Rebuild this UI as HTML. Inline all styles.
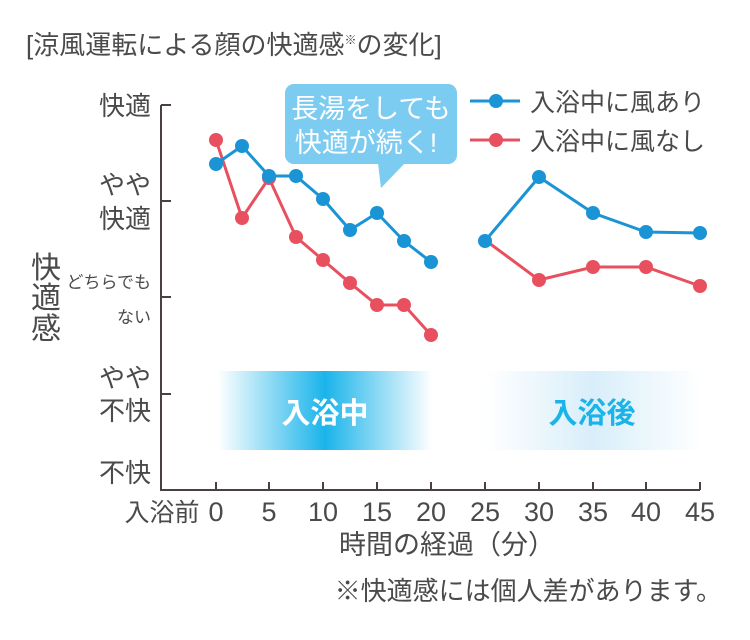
<!DOCTYPE html>
<html><head><meta charset="utf-8"><style>
body{margin:0;background:#fff}
svg{display:block}
text{font-family:"Liberation Sans","Noto Sans CJK JP",sans-serif;fill:#4a4a4a}
</style></head><body>
<svg width="750" height="640" viewBox="0 0 750 640" xmlns="http://www.w3.org/2000/svg">
<defs>
<linearGradient id="g1" x1="0" x2="1"><stop offset="0" stop-color="#fff"/><stop offset="0.5" stop-color="#1ab4ea"/><stop offset="1" stop-color="#fff"/></linearGradient>
<linearGradient id="g2" x1="0" x2="1"><stop offset="0" stop-color="#fff"/><stop offset="0.5" stop-color="#d8eefa"/><stop offset="1" stop-color="#fff"/></linearGradient>
</defs>
<text x="26" y="54" font-size="26">[涼風運転による顔の快適感<tspan font-size="12" dy="-10">※</tspan><tspan dy="10">の変化]</tspan></text>
<rect x="218" y="371" width="214" height="79" fill="url(#g1)"/>
<rect x="485" y="371" width="216" height="79" fill="url(#g2)"/>
<text x="325" y="423" font-size="29" font-weight="bold" text-anchor="middle" style="fill:#fff">入浴中</text>
<text x="592" y="423" font-size="29" font-weight="bold" text-anchor="middle" style="fill:#1ab4ea">入浴後</text>
<g stroke="#4a4040" stroke-width="2" fill="none">
<path d="M161 105V490H700"/>
<path d="M161 105h10M161 201h10M161 297h10M161 394h10"/>
<path d="M216 490v-8M269 490v-8M323 490v-8M377 490v-8M431 490v-8M485 490v-8M539 490v-8M593 490v-8M646 490v-8M700 490v-8"/>
</g>
<g font-size="26" text-anchor="end">
<text x="151" y="115">快適</text>
<text x="151" y="194">やや</text>
<text x="151" y="228">快適</text>
<text x="151" y="387">やや</text>
<text x="151" y="420">不快</text>
<text x="151" y="482">不快</text>
</g>
<g font-size="17" text-anchor="end">
<text x="151" y="288">どちらでも</text>
<text x="151" y="323">ない</text>
</g>
<g font-size="30" text-anchor="middle">
<text x="46" y="278">快</text><text x="46" y="308">適</text><text x="46" y="339">感</text>
</g>
<g font-size="27" text-anchor="middle">
<text x="162" y="521" font-size="25">入浴前</text>
<text x="216" y="521">0</text><text x="269" y="521">5</text><text x="323" y="521">10</text><text x="377" y="521">15</text><text x="431" y="521">20</text><text x="485" y="521">25</text><text x="539" y="521">30</text><text x="593" y="521">35</text><text x="646" y="521">40</text><text x="700" y="521">45</text>
<text x="447" y="554">時間の経過（分）</text>
</g>
<text x="722" y="600" font-size="26" text-anchor="end">※快適感には個人差があります。</text>
<rect x="285" y="84" width="172" height="80" rx="9" fill="#7ccbf0"/>
<path d="M378 163L381 188L405 163Z" fill="#7ccbf0"/>
<text x="371" y="118" font-size="27" text-anchor="middle" style="fill:#fff">長湯をしても</text>
<text x="366" y="152" font-size="27" text-anchor="middle" style="fill:#fff">快適が続く!</text>
<path d="M470 101h50" stroke="#1a94d4" stroke-width="3"/><circle cx="496" cy="101" r="7" fill="#1a94d4"/>
<text x="530" y="111" font-size="25">入浴中に風あり</text>
<path d="M470 140h50" stroke="#e8505f" stroke-width="3"/><circle cx="496" cy="140" r="7" fill="#e8505f"/>
<text x="530" y="150" font-size="25">入浴中に風なし</text>
<g stroke="#e8505f" stroke-width="3" fill="none">
<polyline points="216,140 242,218 269,178 296,237 323,260 350,283 377,305 404,305 431,335"/>
<polyline points="485,240 539,280 593,267 646,267 700,286"/>
</g>
<g fill="#e8505f">
<circle cx="216" cy="140" r="7"/><circle cx="242" cy="218" r="7"/><circle cx="269" cy="178" r="7"/><circle cx="296" cy="237" r="7"/><circle cx="323" cy="260" r="7"/><circle cx="350" cy="283" r="7"/><circle cx="377" cy="305" r="7"/><circle cx="404" cy="305" r="7"/><circle cx="431" cy="335" r="7"/>
<circle cx="539" cy="280" r="7"/><circle cx="593" cy="267" r="7"/><circle cx="646" cy="267" r="7"/><circle cx="700" cy="286" r="7"/>
</g>
<g stroke="#1a94d4" stroke-width="3" fill="none">
<polyline points="216,164 242,146 269,176 296,176 323,199 350,230 377,213 404,241 431,262"/>
<polyline points="485,241 539,177 593,213 646,232 700,233"/>
</g>
<g fill="#1a94d4">
<circle cx="216" cy="164" r="7"/><circle cx="242" cy="146" r="7"/><circle cx="269" cy="176" r="7"/><circle cx="296" cy="176" r="7"/><circle cx="323" cy="199" r="7"/><circle cx="350" cy="230" r="7"/><circle cx="377" cy="213" r="7"/><circle cx="404" cy="241" r="7"/><circle cx="431" cy="262" r="7"/>
<circle cx="485" cy="241" r="7"/><circle cx="539" cy="177" r="7"/><circle cx="593" cy="213" r="7"/><circle cx="646" cy="232" r="7"/><circle cx="700" cy="233" r="7"/>
</g>
</svg>
</body></html>
